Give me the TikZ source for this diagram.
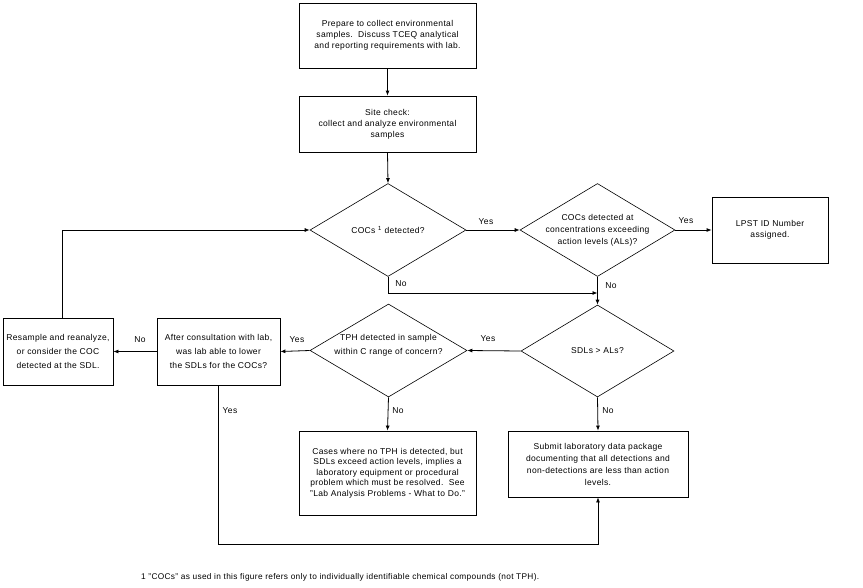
\documentclass[tikz,border=0pt]{standalone}
\usepackage{fontspec}
\setmainfont{Liberation Sans}[LetterSpace=4]
\usetikzlibrary{shapes.geometric,arrows.meta}
\newcommand{\fs}{\fontsize{8.5}{11}\selectfont}
\begin{document}
\begin{tikzpicture}[x=1pt,y=-1pt,
  box/.style={draw, line width=0.8pt, inner sep=0pt, align=center, font=\fs},
  dia/.style={draw, diamond, inner sep=0pt, line width=0.6pt},
  txt/.style={align=center, font=\fs, inner sep=0pt},
  arr/.style={-{Latex[length=5pt,width=4pt]}, line width=0.8pt},
  lbl/.style={font=\fs, inner sep=0pt}]
\useasboundingbox (0,0) rectangle (863,587);
% boxes
\node[box, minimum width=177pt, minimum height=65pt] (prep) at (387.5,35.5)
  {Prepare to collect environmental\\samples.\ \ Discuss TCEQ analytical\\and reporting requirements with lab.};
\node[box, minimum width=177pt, minimum height=56pt] (site) at (387.5,124)
  {Site check:\\collect and analyze environmental\\samples};
\node[box, minimum width=116pt, minimum height=66pt] (lpst) at (770,230)
  {LPST ID Number\\assigned.};
\node[box, minimum width=123pt, minimum height=67pt, font=\fontsize{8.5}{14}\selectfont] (after) at (218.5,351.5)
  {After consultation with lab,\\was lab able to lower\\the SDLs for the COCs?};
\node[box, minimum width=110pt, minimum height=67pt, font=\fontsize{8.5}{14}\selectfont] (res) at (58,351.5)
  {Resample and reanalyze,\\or consider the COC\\detected at the SDL.};
\node[box, minimum width=177pt, minimum height=84pt, font=\fontsize{8.5}{10.5}\selectfont] (cases) at (387.5,473)
  {Cases where no TPH is detected, but\\SDLs exceed action levels, implies a\\laboratory equipment or procedural\\problem which must be resolved.\ \ See\\"Lab Analysis Problems - What to Do."};
\node[box, minimum width=180pt, minimum height=66pt, font=\fontsize{8.5}{12}\selectfont] (sub) at (598,464)
  {Submit laboratory data package\\documenting that all detections and\\non-detections are less than action\\levels.};
% diamonds
\node[dia, minimum width=156pt, minimum height=93pt] (d1) at (388,230) {};
\node[txt] (t1) at (d1) {COCs \textsuperscript{1} detected?};
\node[dia, minimum width=155pt, minimum height=93pt] (d2) at (597.5,230) {};
\node[txt, font=\fontsize{8.5}{12}\selectfont] (t2) at (d2) {COCs detected at\\concentrations exceeding\\action levels (ALs)?};
\node[dia, minimum width=153pt, minimum height=92pt] (d3) at (597.5,351) {};
\node[txt] (t3) at (d3) {SDLs > ALs?};
\node[dia, minimum width=157pt, minimum height=93pt] (d4) at (388.5,350.5) {};
\node[txt, font=\fontsize{8.5}{14}\selectfont] (t4) at (388.5,345) {TPH detected in sample\\within C range of concern?};
% connectors
\coordinate (j) at (597.5,293);
\coordinate (bot) at (0,544);
\coordinate (rtop) at (62,318);
\draw[arr] (prep.south) -- (site.north);
\draw[arr] (site.south) -- (d1.north);
\draw[arr] (d1.east) -- (d2.west);
\draw[arr] (d2.east) -- (lpst.west);
\draw[arr] (d1.south) |- (j);
\draw[arr] (d2.south) -- (d3.north);
\draw[arr] (d3.west) -- (d4.east);
\draw[arr] (d4.west) -- (after.east);
\draw[arr] (after.west) -- (res.east);
\draw[arr] (rtop) |- (d1.west);
\draw[arr] (d4.south) -- (cases.north);
\draw[arr] (d3.south) -- (sub.north);
\draw[arr] (after.south) -- (after.south |- bot) -| (sub.south);
% labels
\node[lbl] (l1) at (486,222) {Yes};
\node[lbl] (l2) at (686,221) {Yes};
\node[lbl] (l3) at (401,284) {No};
\node[lbl] (l4) at (611,286) {No};
\node[lbl] (l5) at (488,339) {Yes};
\node[lbl] (l6) at (297,340) {Yes};
\node[lbl] (l7) at (140,340) {No};
\node[lbl] (l8) at (230,411) {Yes};
\node[lbl] (l9) at (398,411) {No};
\node[lbl] (l10) at (608,411) {No};
% footnote
\node[lbl, anchor=west, font=\fontsize{8.3}{11}\selectfont] (fn) at (141,577) {1 "COCs" as used in this figure refers only to individually identifiable chemical compounds (not TPH).};
\end{tikzpicture}
\end{document}
